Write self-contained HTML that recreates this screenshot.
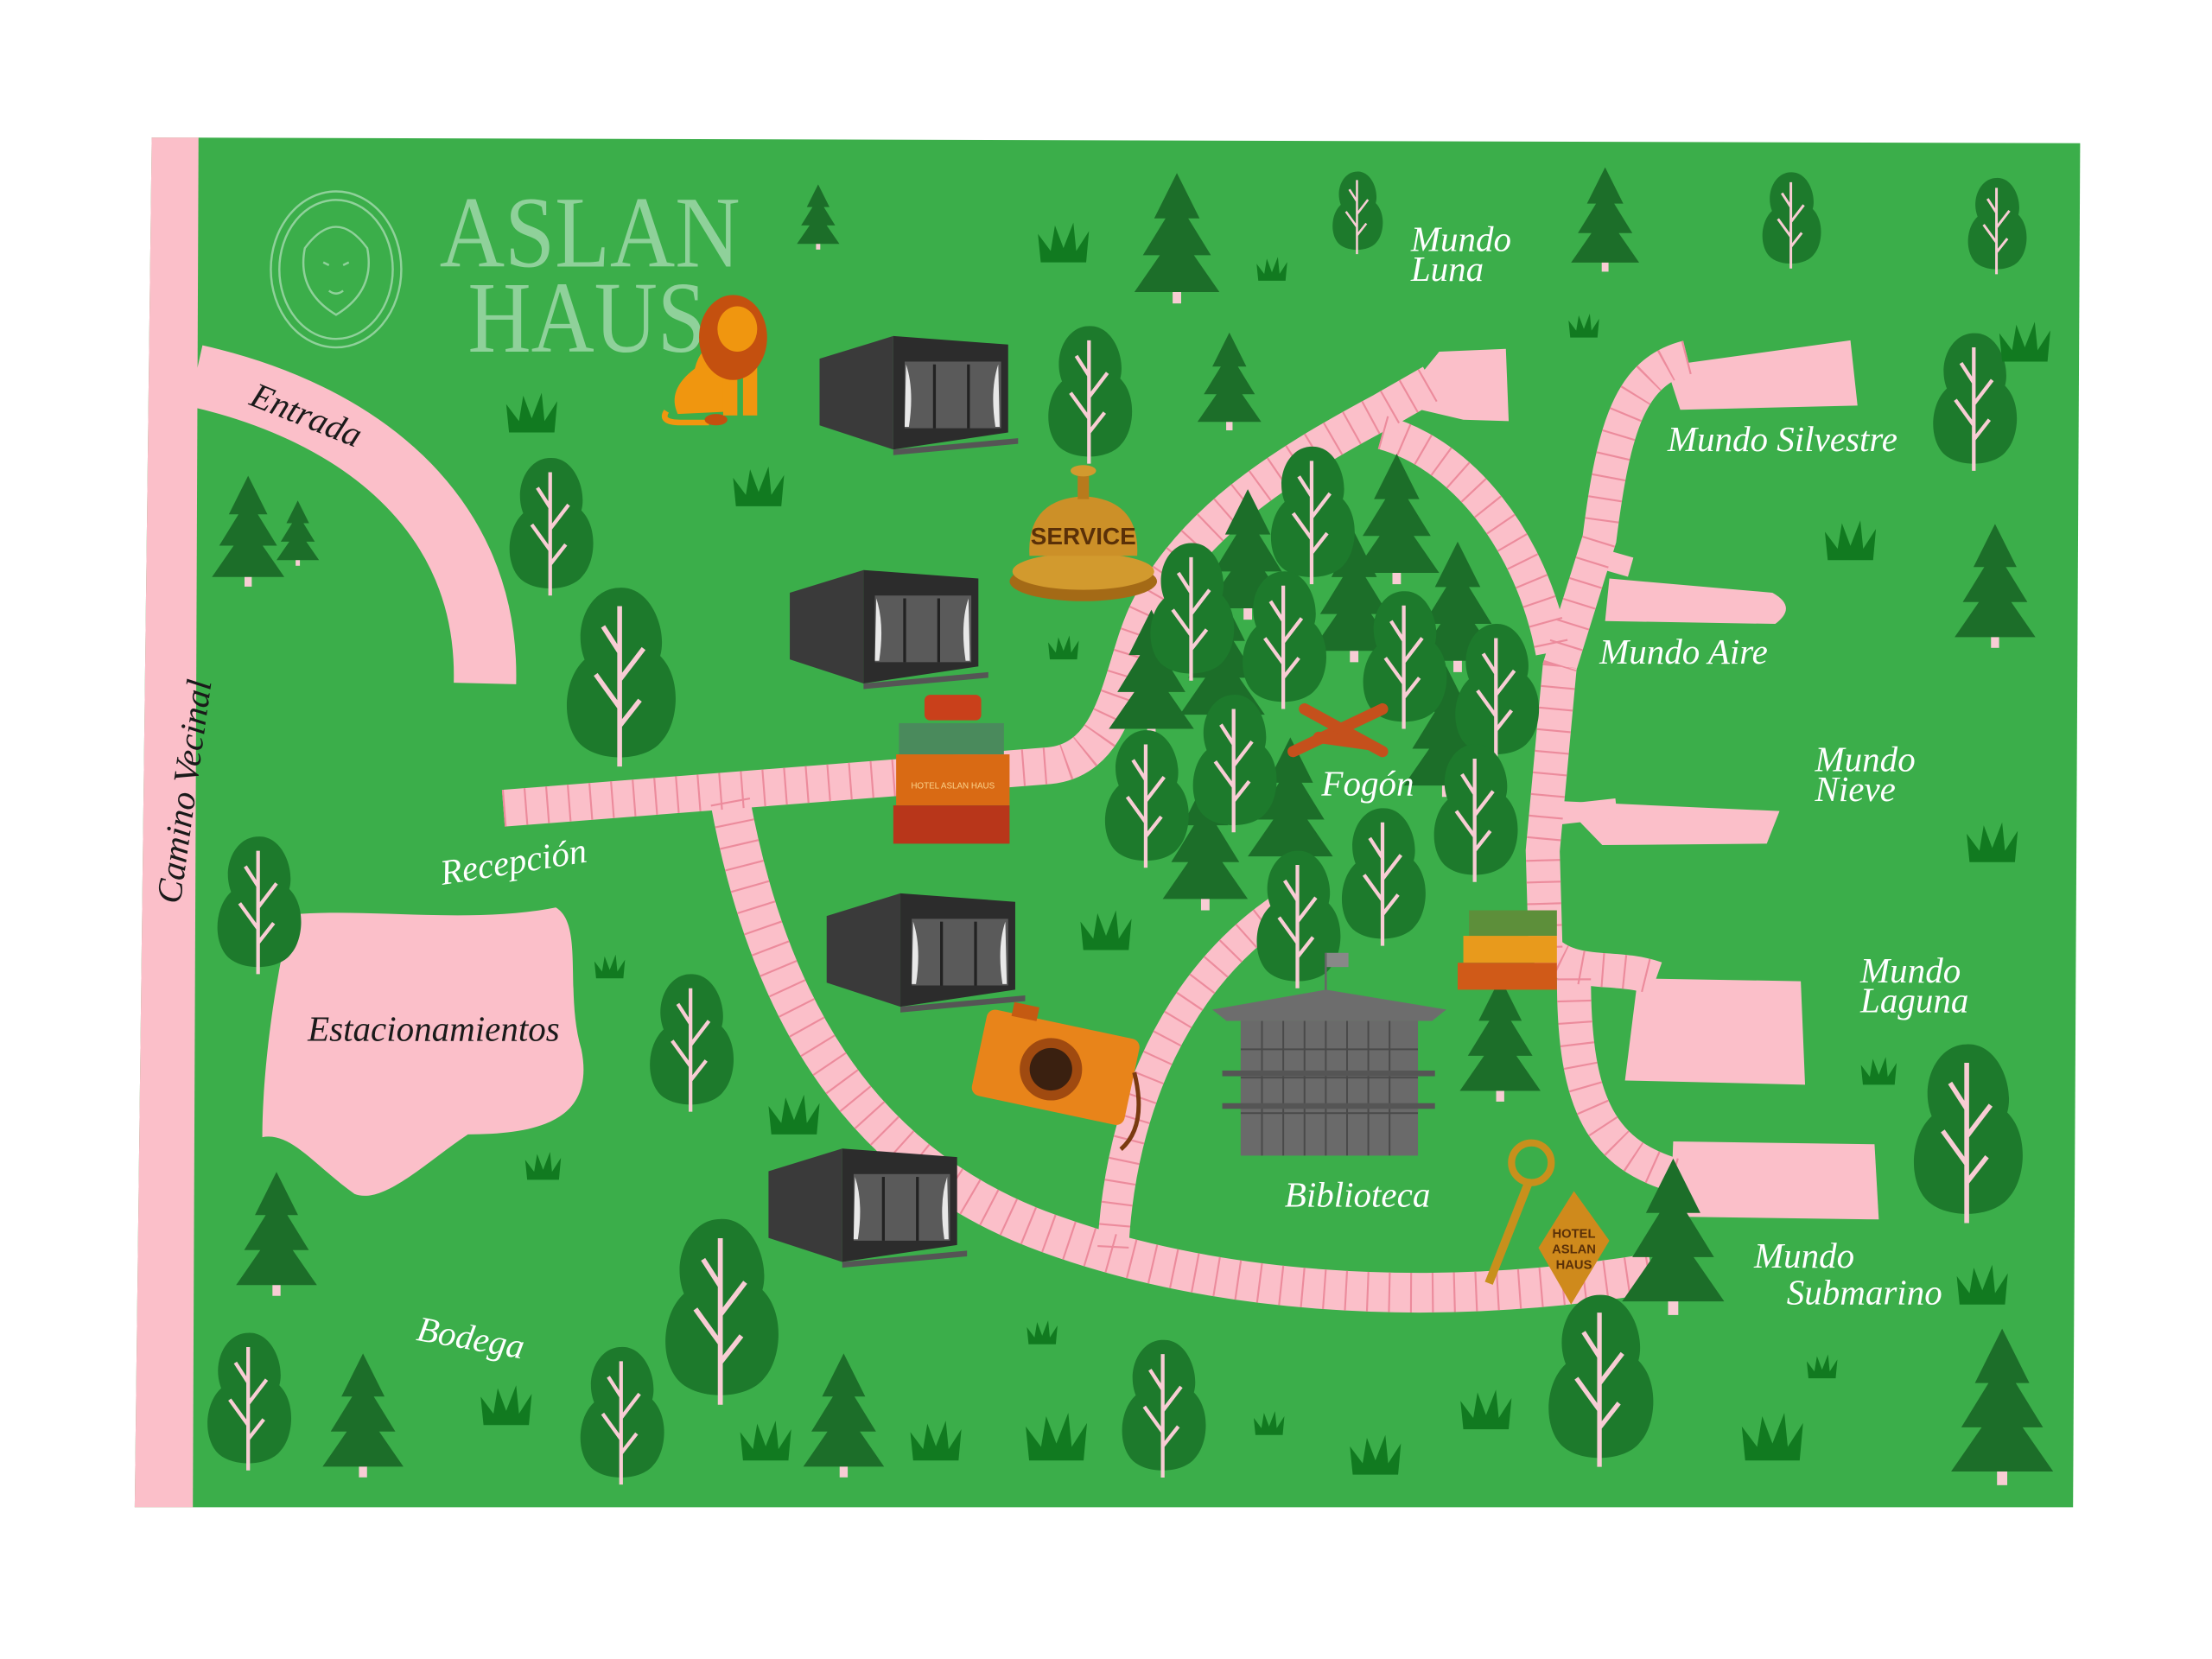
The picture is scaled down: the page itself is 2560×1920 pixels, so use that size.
<!DOCTYPE html>
<html><head><meta charset="utf-8"><style>
html,body{margin:0;padding:0;background:#fff;}
svg{display:block;}
.lbl{font-family:"Liberation Serif",serif;font-style:italic;fill:#fff;font-size:25px;}
.dk{fill:#1a1a1a;}
</style></head><body>
<svg width="2560" height="1920" viewBox="0 0 1560 1170" preserveAspectRatio="none" xmlns="http://www.w3.org/2000/svg">
<defs>
<g id="dt">
<path d="M0,-95 C17,-96 26,-72 22,-58 C34,-46 32,-22 23,-12 C14,0 -14,0 -23,-12 C-32,-24 -30,-46 -19,-56 C-26,-74 -16,-95 0,-95Z" fill="#1d7a2c"/>
<path d="M0,2 L0,-85 M0,-30 L-13,-48 M0,-45 L13,-62 M0,-60 L-9,-74 M0,-20 L11,-34" stroke="#f8cdd4" stroke-width="2.6" fill="none"/>
</g>
<g id="pn">
<rect x="-3" y="-8" width="6" height="10" fill="#f8cdd4"/>
<polygon points="0,-90 -16,-58 -8,-58 -24,-32 -12,-32 -30,-6 30,-6 12,-32 24,-32 8,-58 16,-58" fill="#1c6e29"/>
</g>
<g id="gr"><path d="M-16,0 L-18,-20 L-9,-8 L-6,-26 L0,-10 L7,-28 L9,-8 L18,-22 L16,0Z" fill="#117a20"/></g>
<g id="cab">
<polygon points="0,18 52,2 52,82 0,65" fill="#3a3a3a"/>
<polygon points="52,2 133,8 133,70 52,82" fill="#2c2c2c"/>
<rect x="60" y="20" width="68" height="47" fill="#5a5a5a"/>
<path d="M61,22 q6,18 2,44 l-3,0 z M126,22 q-6,18 -2,44 l3,0z" fill="#e8e8e8"/>
<rect x="80" y="22" width="2" height="45" fill="#222"/><rect x="104" y="22" width="2" height="45" fill="#222"/>
<polygon points="52,82 140,74 140,78 52,86" fill="#555"/>
</g>
</defs>
<polygon points="107,97 1467,101 1462,1063 95,1063" fill="#3bae4a"/>
<g fill="#fbbfc9">
<polygon points="107,97 140,97 136,1063 95,1063"/>
<path d="M1175,258 L1305,240 L1310,286 L1185,289Z"/>
<path d="M1135,408 L1250,418 Q1268,428 1252,440 L1132,438Z"/>
<path d="M1100,565 L1255,572 L1246,595 L1130,596Z"/>
<path d="M1155,690 L1270,692 L1273,765 L1146,762Z"/>
<path d="M1180,805 L1322,807 L1325,860 L1178,858Z"/>
<path d="M1015,248 L1062,246 L1064,297 L1032,296 L985,285Z"/>
<path d="M205,645 C260,640 330,652 392,640 C412,652 398,700 410,740 C420,790 380,800 330,800 C300,820 270,850 250,842 C222,822 205,798 185,802 C185,760 192,700 205,645Z"/>
</g>
<g fill="none" stroke="#fbbfc9" stroke-linecap="butt">
<path d="M138,265 C250,290 345,360 342,482" stroke-width="44"/>
<path id="r1" d="M355,570 L740,540 C790,535 790,470 810,430 C840,370 900,330 975,290 L1010,270" stroke-width="26"/>
<path id="r2" d="M975,305 C1030,320 1080,380 1095,460" stroke-width="24"/>
<path id="r3" d="M1190,252 C1150,262 1138,300 1128,380 L1100,470 L1088,600 L1090,670 C1110,690 1140,680 1168,690" stroke-width="24"/>
<path id="r4" d="M1110,690 C1110,780 1130,815 1185,830" stroke-width="24"/>
<path id="r5" d="M515,565 C540,700 600,820 740,870 C850,910 1000,925 1165,898" stroke-width="28"/>
<path id="r6" d="M785,880 C790,780 830,690 905,640" stroke-width="22"/>
<path d="M1115,390 L1150,400 M1095,575 L1140,570" stroke-width="14"/>
</g>
<g fill="none" stroke="#ec8b9c" stroke-width="6" stroke-dasharray="1.3 14">
<use href="#r1"/><use href="#r2"/><use href="#r3"/><use href="#r4"/><use href="#r5"/><use href="#r6"/>
</g>
<g fill="none" stroke="#8fd19a" stroke-width="1.5">
<ellipse cx="237" cy="190" rx="46" ry="55"/><ellipse cx="237" cy="190" rx="40" ry="49"/>
<path d="M215,175 Q237,145 259,175 Q265,205 237,222 Q209,205 215,175Z"/>
<path d="M228,185 l4,2 M246,185 l-4,2 M232,205 q5,4 10,0"/>
</g>
<text x="310" y="188" font-family="Liberation Serif,serif" font-size="72" fill="#8fd19a" textLength="212" lengthAdjust="spacingAndGlyphs">ASLAN</text>
<text x="330" y="248" font-family="Liberation Serif,serif" font-size="72" fill="#8fd19a" textLength="168" lengthAdjust="spacingAndGlyphs">HAUS</text>
<g>
<use href="#pn" transform="translate(577,175) scale(0.5)"/>
<use href="#pn" transform="translate(830,212)"/>
<use href="#pn" transform="translate(1132,190) scale(0.8)"/>
<use href="#pn" transform="translate(867,302) scale(0.75)"/>
<use href="#pn" transform="translate(175,412) scale(0.85)"/>
<use href="#pn" transform="translate(210,398) scale(0.5)"/>
<use href="#pn" transform="translate(1407,455) scale(0.95)"/>
<use href="#pn" transform="translate(195,912) scale(0.95)"/>
<use href="#pn" transform="translate(256,1040) scale(0.95)"/>
<use href="#pn" transform="translate(595,1040) scale(0.95)"/>
<use href="#pn" transform="translate(1180,925) scale(1.2)"/>
<use href="#pn" transform="translate(1412,1045) scale(1.2)"/>
<use href="#pn" transform="translate(1058,775) scale(0.95)"/>
<use href="#pn" transform="translate(880,435)"/>
<use href="#pn" transform="translate(985,410)"/>
<use href="#pn" transform="translate(955,465)"/>
<use href="#pn" transform="translate(1028,472)"/>
<use href="#pn" transform="translate(812,520)"/>
<use href="#pn" transform="translate(862,510)"/>
<use href="#pn" transform="translate(910,610)"/>
<use href="#pn" transform="translate(850,640)"/>
<use href="#pn" transform="translate(1020,560)"/>
</g>
<g>
<use href="#dt" transform="translate(957,178) scale(0.6)"/>
<use href="#dt" transform="translate(1263,188) scale(0.7)"/>
<use href="#dt" transform="translate(1408,192) scale(0.7)"/>
<use href="#dt" transform="translate(768,325)"/>
<use href="#dt" transform="translate(1392,330)"/>
<use href="#dt" transform="translate(388,418)"/>
<use href="#dt" transform="translate(437,538) scale(1.3)"/>
<use href="#dt" transform="translate(182,685)"/>
<use href="#dt" transform="translate(487,782)"/>
<use href="#dt" transform="translate(1387,860) scale(1.3)"/>
<use href="#dt" transform="translate(508,988) scale(1.35)"/>
<use href="#dt" transform="translate(175,1035)"/>
<use href="#dt" transform="translate(438,1045)"/>
<use href="#dt" transform="translate(820,1040)"/>
<use href="#dt" transform="translate(1128,1032) scale(1.25)"/>
<use href="#dt" transform="translate(925,410)"/>
<use href="#dt" transform="translate(840,478)"/>
<use href="#dt" transform="translate(905,498)"/>
<use href="#dt" transform="translate(990,512)"/>
<use href="#dt" transform="translate(1055,535)"/>
<use href="#dt" transform="translate(808,610)"/>
<use href="#dt" transform="translate(870,585)"/>
<use href="#dt" transform="translate(975,665)"/>
<use href="#dt" transform="translate(915,695)"/>
<use href="#dt" transform="translate(1040,620)"/>
</g>
<g>
<use href="#gr" transform="translate(750,185)"/><use href="#gr" transform="translate(897,198) scale(0.6)"/>
<use href="#gr" transform="translate(1117,238) scale(0.6)"/><use href="#gr" transform="translate(1428,255)"/>
<use href="#gr" transform="translate(375,305)"/><use href="#gr" transform="translate(535,357)"/>
<use href="#gr" transform="translate(1305,395)"/><use href="#gr" transform="translate(750,465) scale(0.6)"/>
<use href="#gr" transform="translate(1405,608)"/><use href="#gr" transform="translate(780,670)"/>
<use href="#gr" transform="translate(430,690) scale(0.6)"/><use href="#gr" transform="translate(560,800)"/>
<use href="#gr" transform="translate(383,832) scale(0.7)"/><use href="#gr" transform="translate(1325,765) scale(0.7)"/>
<use href="#gr" transform="translate(1398,920)"/><use href="#gr" transform="translate(357,1005)"/>
<use href="#gr" transform="translate(540,1030)"/><use href="#gr" transform="translate(660,1030)"/>
<use href="#gr" transform="translate(745,1030) scale(1.2)"/><use href="#gr" transform="translate(895,1012) scale(0.6)"/>
<use href="#gr" transform="translate(970,1040)"/><use href="#gr" transform="translate(1048,1008)"/>
<use href="#gr" transform="translate(1250,1030) scale(1.2)"/><use href="#gr" transform="translate(1285,972) scale(0.6)"/>
<use href="#gr" transform="translate(735,948) scale(0.6)"/>
</g>
<use href="#cab" transform="translate(578,235)"/>
<use href="#cab" transform="translate(557,400)"/>
<use href="#cab" transform="translate(583,628)"/>
<use href="#cab" transform="translate(542,808)"/>
<g>
<path d="M478,292 Q470,275 490,260 Q495,240 510,245 L520,290 Z" fill="#f0960f"/>
<path d="M470,290 Q465,298 480,298 L500,298" stroke="#f0960f" stroke-width="4" fill="none"/>
<ellipse cx="505" cy="296" rx="8" ry="4" fill="#c4500f"/>
<rect x="510" y="255" width="10" height="38" fill="#f0960f"/><rect x="524" y="255" width="10" height="38" fill="#f0960f"/>
<ellipse cx="517" cy="238" rx="24" ry="30" fill="#c4500f"/>
<ellipse cx="520" cy="232" rx="14" ry="16" fill="#f0960f"/>
</g>
<g>
<ellipse cx="764" cy="410" rx="52" ry="14" fill="#a46a16"/>
<ellipse cx="764" cy="403" rx="50" ry="13" fill="#d29a2e"/>
<path d="M726,392 Q724,352 764,350 Q804,352 802,392Z" fill="#cc9028"/>
<rect x="760" y="330" width="8" height="22" fill="#b87a1c"/><ellipse cx="764" cy="332" rx="9" ry="4" fill="#d29a2e"/>
<text x="764" y="384" text-anchor="middle" font-family="Liberation Sans,sans-serif" font-weight="bold" font-size="17" fill="#5a3008">SERVICE</text>
</g>
<g>
<rect x="652" y="490" width="40" height="18" rx="4" fill="#c9401b"/>
<rect x="634" y="510" width="74" height="22" fill="#4a8a5c"/>
<rect x="632" y="532" width="80" height="36" fill="#d96a14"/>
<rect x="630" y="568" width="82" height="27" fill="#b8361a"/>
<text x="672" y="556" text-anchor="middle" font-family="Liberation Sans,sans-serif" font-size="6" fill="#fbd28a">HOTEL ASLAN HAUS</text>
</g>
<g transform="rotate(12 745 760)">
<rect x="688" y="722" width="110" height="62" rx="6" fill="#e8841a"/>
<rect x="705" y="714" width="18" height="10" fill="#c55a12"/>
<circle cx="740" cy="755" r="22" fill="#a04a10"/><circle cx="740" cy="755" r="15" fill="#3a2010"/>
<path d="M798,745 Q815,780 800,800" stroke="#7a3a10" stroke-width="3" fill="none"/>
</g>
<g stroke="#c5501c" stroke-width="8" stroke-linecap="round">
<line x1="912" y1="530" x2="975" y2="500"/><line x1="920" y1="500" x2="975" y2="530"/><line x1="930" y1="520" x2="965" y2="525"/>
</g>
<g>
<rect x="1036" y="642" width="62" height="18" fill="#5d8f3a"/>
<rect x="1032" y="660" width="66" height="19" fill="#e89a1c"/>
<rect x="1028" y="679" width="70" height="19" fill="#d05a18"/>
</g>
<g>
<rect x="935" y="672" width="16" height="10" fill="#888"/><line x1="935" y1="672" x2="935" y2="700" stroke="#666" stroke-width="1.5"/>
<polygon points="855,712 935,698 1020,712 1010,720 865,720" fill="#6d6d6d"/>
<rect x="875" y="720" width="125" height="95" fill="#6a6a6a"/>
<g stroke="#4a4a4a" stroke-width="1.2">
<line x1="890" y1="720" x2="890" y2="815"/><line x1="905" y1="720" x2="905" y2="815"/><line x1="920" y1="720" x2="920" y2="815"/><line x1="935" y1="720" x2="935" y2="815"/><line x1="950" y1="720" x2="950" y2="815"/><line x1="965" y1="720" x2="965" y2="815"/><line x1="980" y1="720" x2="980" y2="815"/>
<line x1="875" y1="740" x2="1000" y2="740"/><line x1="875" y1="760" x2="1000" y2="760"/><line x1="875" y1="785" x2="1000" y2="785"/>
</g>
<rect x="862" y="755" width="150" height="4" fill="#555"/><rect x="862" y="778" width="150" height="4" fill="#555"/>
</g>
<g>
<circle cx="1080" cy="820" r="14" fill="none" stroke="#c8901c" stroke-width="5"/>
<line x1="1078" y1="834" x2="1050" y2="905" stroke="#c8901c" stroke-width="6"/>
<polygon points="1110,840 1135,875 1108,920 1085,880" fill="#cf8a1c"/>
<text x="1110" y="873" text-anchor="middle" font-family="Liberation Sans,sans-serif" font-weight="bold" font-size="9" fill="#5a3008">HOTEL</text>
<text x="1110" y="884" text-anchor="middle" font-family="Liberation Sans,sans-serif" font-weight="bold" font-size="9" fill="#5a3008">ASLAN</text>
<text x="1110" y="895" text-anchor="middle" font-family="Liberation Sans,sans-serif" font-weight="bold" font-size="9" fill="#5a3008">HAUS</text>
</g>
<text class="lbl dk" transform="translate(175,285) rotate(22)" font-size="21">Entrada</text>
<text class="lbl dk" transform="translate(127,638) rotate(-82)" font-size="21">Camino Vecinal</text>
<text class="lbl" transform="translate(312,624) rotate(-9)" font-size="24">Recepción</text>
<text class="lbl dk" x="217" y="734" font-size="20">Estacionamientos</text>
<text class="lbl" x="995" y="177" font-size="22">Mundo</text><text class="lbl" x="995" y="198" font-size="22">Luna</text>
<text class="lbl" x="1176" y="318" font-size="24">Mundo Silvestre</text>
<text class="lbl" x="1128" y="468" font-size="24">Mundo Aire</text>
<text class="lbl" x="1280" y="544" font-size="22">Mundo</text><text class="lbl" x="1280" y="565" font-size="22">Nieve</text>
<text class="lbl" x="1312" y="693" font-size="22">Mundo</text><text class="lbl" x="1312" y="714" font-size="22">Laguna</text>
<text class="lbl" x="1237" y="894" font-size="22">Mundo</text><text class="lbl" x="1260" y="920" font-size="22">Submarino</text>
<text class="lbl" x="932" y="561" font-size="21">Fogón</text>
<text class="lbl" x="906" y="851" font-size="23">Biblioteca</text>
<text class="lbl" transform="translate(293,945) rotate(10)" font-size="22">Bodega</text>
</svg>
</body></html>
